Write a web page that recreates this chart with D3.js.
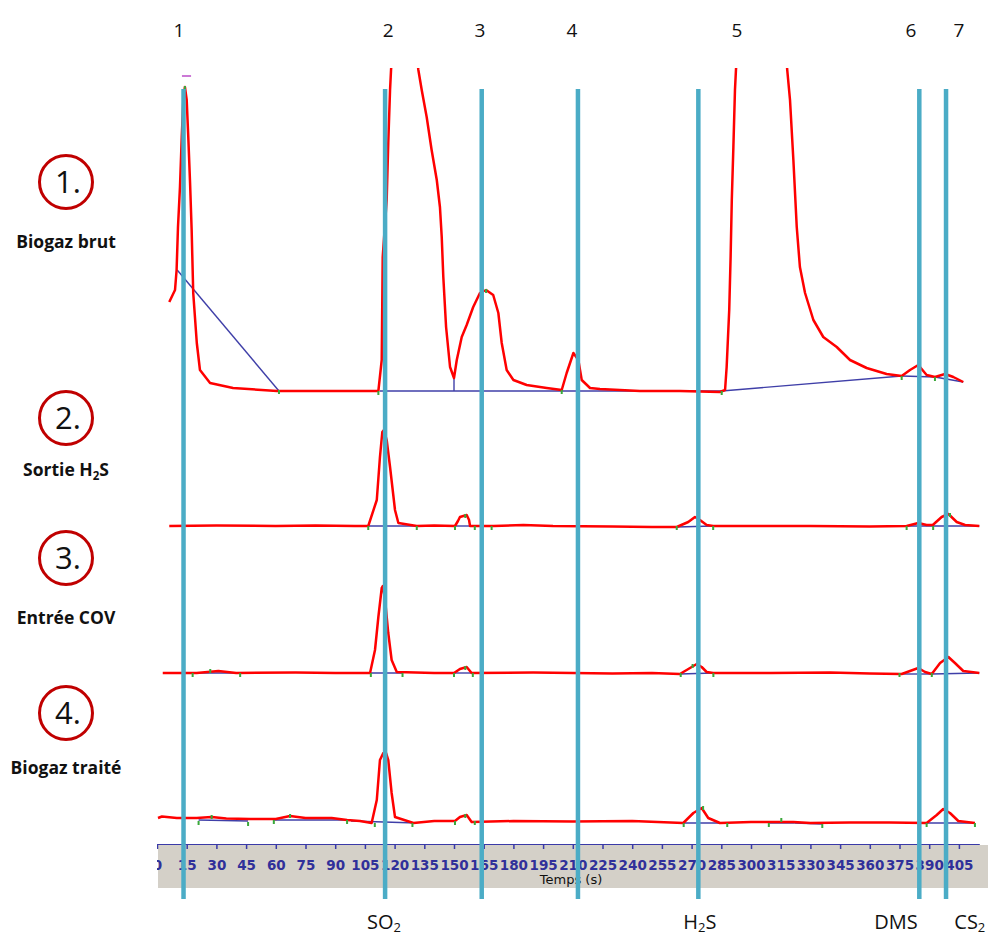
<!DOCTYPE html>
<html>
<head>
<meta charset="utf-8">
<script src="https://cdn.jsdelivr.net/npm/d3@7"></script>
<style>
  html, body { margin: 0; padding: 0; background: #fff; }
  svg { display: block; }
</style>
</head>
<body>
<svg id="chart" width="994" height="935"></svg>
<script>
// ---------------- DATA ----------------
// Time axis (s)
const tickLabels = [0,15,30,45,60,75,90,105,120,135,150,165,180,195,210,225,240,255,270,285,300,315,330,345,360,375,390,405];

// Compound retention times (s) marked by vertical lines
const peakTimes = [13.4, 115.2, 164.0, 212.6, 273.4, 385.0, 398.5];
const peakNumbers = ["1","2","3","4","5","6","7"];
const peakNumberTimes = [11.1, 116.7, 163.1, 209.6, 292.9, 380.8, 405.0];

// Compound names under the axis
const compoundNames = [
  {base:"SO", sub:"2", t:114.6},
  {base:"H", sub:"2", tail:"S", t:274.2},
  {base:"DMS", sub:"", t:373.2},
  {base:"CS", sub:"2", t:410.5}
];

// Sample names
const sampleNumbers = ["1.", "2.", "3.", "4."];
const sampleNames = [
  {base:"Biogaz brut"},
  {base:"Sortie H", sub:"2", tail:"S"},
  {base:"Entrée COV"},
  {base:"Biogaz traité"}
];

// Chromatogram 1 : Biogaz brut (signal, arbitrary units)
const time1 = [6.2,9.1,9.9,10.6,11.6,12.5,13.3,14.1,15.0,15.8,16.7,17.5,18.3,20.1,21.7,26.8,38.4,60.6,72.2,111.8,
  113.5,114.0,116.0,116.8,117.7,118.2,119.2,125,130.3,132.0,133.7,136.2,138.7,141.3,142.9,143.8,144.6,146.0,148.0,150.0,
  151.4,153.9,156.4,159.7,163.1,166.2,169.8,172.4,174.1,176.6,180.0,186.7,196.8,204.4,206.9,210.3,212.8,214.5,218.7,223.7,
  243.9,264.1,284.3,286.9,287.7,289.0,289.7,290.3,291.1,291.9,292.4,293.4,305,317.2,318.3,319.7,321.4,323.1,324.7,327.3,
  331.5,336.5,343.3,350.0,358.4,368.5,376.1,380.3,384.5,388.7,392.9,398.0,402.2,407.2];
const signal1 = [89,101,121,164,204,254,291,304,291,254,208,161,98,48,21,8,3,0,0,0,
  31,134,191,248,301,321,351,700,351,321,301,274,241,211,184,154,114,64,24,13,
  31,54,66,84,98,101,96,78,48,21,11,6,3,1,18,38,31,11,3,2,
  0,0,-1,1,24,81,134,191,244,301,321,351,700,351,321,291,231,164,124,98,
  71,54,44,31,23,17,15,21,26,16,14,17,14,9];
// Integration baseline segments for chromatogram 1: [t0, v0, t1, v1]
const base1 = [[10.2,121,61.6,0],[112.6,0,150.0,0],[150.0,13,150.0,0],[150.0,0,285.2,0],[285.2,0,376.1,15],[376.1,15,392.9,14],[392.9,14,407.2,9]];
const marks1 = [[14.1,304],[61.6,0],[111.8,-1],[166.2,101],[204.4,0],[285.2,-1],[376.1,14],[392.9,13]];

// Chromatogram 2 : Sortie H2S
const time2 = [6.2,30,60,80,100,106.7,111.0,112.6,113.8,114.6,116.0,117.7,120.2,121.9,131.2,140,150.5,152.0,153.0,156.4,157.6,158.1,
  170,185,200,230,250,262.5,268.3,271.7,274.2,277.6,280.9,300,330,360,378.6,384.5,388.7,391.8,396.3,399.7,403.9,408.1,415.3];
const signal2 = [0,0.5,0,0.5,0,0,26,69,94,96,86,59,16,3,0,0.5,0,5,9,11,6,0,
  0,1,0,-0.5,-1,-1,4,9,6,1,0,0,0,-0.5,0,3,1,1,9,12,4,1,0];
const base2 = [[106.7,0,131.2,0],[150.5,0,158.1,0],[262.5,-1,280.9,0],[378.6,0,415.3,0]];
const marks2 = [[106.7,-1],[131.2,-1],[150.5,-1],[155.7,11],[160.5,-1],[169,-1],[262.5,-1],[280.9,-1],[378.6,-1],[392,-1],[400.5,12]];

// Chromatogram 3 : Entrée COV
const time3 = [2.9,20,31.0,40,70,90,107.6,110.1,111.8,113.5,114.1,115.2,116.8,118.5,121.1,140,150,153.0,156.4,158.9,
  190,230,250,264.1,269.2,272.6,275.1,277.6,280.9,310,340,360,376.1,380.3,384.5,387.9,391.3,395.5,399.7,403.0,407.2,415.3];
const signal3 = [0,0,2,0,0.5,0,0,23,56,85,87,73,40,13,1,0,0,4,6,0,
  0.5,-0.5,0,-1,5,9,6,1,0,0,0.5,-0.5,-1,2,5,1,-1,10,16,10,2,0];
const base3 = [[18,0,40,0],[107.6,0,124,0],[150,0,158.9,0],[264.1,-1,280.9,0],[376.1,-1,391.3,-1],[391.3,-1,415.3,0]];
const marks3 = [[18,-1],[26.9,3],[42,-1],[108,-1],[124,-1],[150,-1],[155.7,6],[159.5,-1],[264.5,-1],[270.5,8],[281,-1],[375,-1],[391.3,-1]];

// Chromatogram 4 : Biogaz traité
const time4 = [0.5,2.5,10,20,27.6,35,47,60,67.2,75,88.2,96,102.5,108.4,111.0,112.6,114.3,115.7,116.8,118.5,120.2,129.5,140,150.5,153.0,156.4,158.9,
  180,210,240,265.8,270.9,275.1,278.4,284.3,300,315,321.4,330,350,370,388.7,393.8,397.1,400.5,404.7,413.1];
const signal4 = [3,4.5,3,3,4,2.5,2,2,5,3,3,1,0,-2,21,61,68,68,61,28,4,-2,0,0,4,6,-1,
  0,-0.5,0,-2,8,13,3,-2,-1,-1,-1,-2,-1.5,-1.5,-2,6,12,8,0,-2];
const base4 = [[21,1,46,0],[59,1,98,1],[98,0,131,-2],[265.8,-2,284.3,-2],[309,-2,322,-2],[322,-2,336,-3],[388.7,-2,413.1,-2]];
const marks4 = [[21,-1],[27.6,5],[46,-2],[59,0],[67.2,6],[96,0],[110,-3],[129,-3],[150.5,-1],[155.7,6],[160.5,-1],[266,-3],[275.8,14],[288,-3],[309,-3],[315.3,2],[336,-4],[388.7,-3],[413.1,-3]];

const traces = [
  {time: time1, signal: signal1, base: base1, marks: marks1},
  {time: time2, signal: signal2, base: base2, marks: marks2},
  {time: time3, signal: signal3, base: base3, marks: marks3},
  {time: time4, signal: signal4, base: base4, marks: marks4}
];

// ---------------- LAYOUT ----------------
const svg = d3.select("#chart");
const x = d3.scaleLinear().domain([0, 415.3]).range([157, 979.3]);
const zeroY = [391, 526, 673, 821];    // pixel of signal 0 for each trace
const axisY = 844;
const lineTop = 89, lineBottom = 899;
const textFont = "'Open Sans', 'Noto Sans', sans-serif";

const defs = svg.append("defs");
defs.append("clipPath").attr("id", "plotClip")
  .append("rect").attr("x", 157).attr("y", 68).attr("width", 830).attr("height", 780);
defs.append("clipPath").attr("id", "axisClip")
  .append("rect").attr("x", 157).attr("y", 835).attr("width", 840).attr("height", 60);

// gray band behind axis labels
svg.append("rect").attr("x", 158).attr("y", 845).attr("width", 830).attr("height", 43).attr("fill", "#d4d0c8");

// axis
const axis = d3.axisBottom(x).tickValues(tickLabels).tickSize(5).tickPadding(11).tickSizeOuter(0);
const ag = svg.append("g").attr("clip-path", "url(#axisClip)")
  .append("g").attr("transform", `translate(0,${axisY})`).call(axis);
ag.select(".domain").attr("stroke", "#3a3aa8").attr("stroke-width", 1.2);
ag.selectAll(".tick line").attr("stroke", "#3a3aa8").attr("stroke-width", 1.5);
ag.selectAll(".tick text").attr("fill", "#30309a").attr("font-family", "'DejaVu Sans', sans-serif")
  .attr("font-size", 13.5).attr("font-weight", "bold");
svg.append("text").attr("x", 571).attr("y", 884).attr("text-anchor", "middle")
  .attr("font-family", "'DejaVu Sans', sans-serif").attr("font-size", 13).attr("fill", "#111").text("Temps (s)");

// traces
const plot = svg.append("g").attr("clip-path", "url(#plotClip)");
traces.forEach((tr, i) => {
  const y = d3.scaleLinear().domain([0, 100]).range([zeroY[i], zeroY[i] - 100]);
  const pts = tr.time.map((t, k) => [t, tr.signal[k]]);
  const line = d3.line().x(d => x(d[0])).y(d => y(d[1]));
  // integration baselines
  plot.append("g").selectAll("line").data(tr.base).join("line")
    .attr("x1", d => x(d[0])).attr("y1", d => y(d[1]))
    .attr("x2", d => x(d[2])).attr("y2", d => y(d[3]))
    .attr("stroke", "#3f3fa8").attr("stroke-width", 1.4);
  plot.append("path").datum(pts).attr("d", line)
    .attr("fill", "none").attr("stroke", "#ff0000").attr("stroke-width", 2.5)
    .attr("stroke-linejoin", "round");
  // peak start/end markers
  plot.append("g").selectAll("rect").data(tr.marks).join("rect")
    .attr("x", d => x(d[0]) - 1).attr("y", d => y(d[1]) - 1)
    .attr("width", 2).attr("height", 4).attr("fill", "#3aa83a");
});

// small magenta mark at top of first peak
svg.append("line").attr("x1", x(12.6)).attr("x2", x(17.2)).attr("y1", 76).attr("y2", 76)
  .attr("stroke", "#b030c0").attr("stroke-width", 1.3);

// vertical cyan lines
svg.append("g").selectAll("line").data(peakTimes).join("line")
  .attr("x1", d => x(d)).attr("x2", d => x(d))
  .attr("y1", lineTop).attr("y2", lineBottom)
  .attr("stroke", "#4bacc6").attr("stroke-width", 4.5);

// peak numbers at top
svg.append("g").selectAll("text").data(peakNumbers).join("text")
  .attr("x", (d, i) => x(peakNumberTimes[i])).attr("y", 37)
  .attr("text-anchor", "middle").attr("font-family", textFont).attr("font-size", 19)
  .attr("fill", "#111").text(d => d);

// compound names at bottom
const cn = svg.append("g").selectAll("text").data(compoundNames).join("text")
  .attr("x", d => x(d.t)).attr("y", 929).attr("text-anchor", "middle")
  .attr("font-family", textFont).attr("font-size", 20).attr("fill", "#111");
cn.each(function(d) {
  const t = d3.select(this);
  t.append("tspan").text(d.base);
  if (d.sub) t.append("tspan").attr("font-size", 13).attr("dy", 3).text(d.sub);
  if (d.tail) t.append("tspan").attr("dy", -3).text(d.tail);
});

// sample labels on the left
const circleY = [182, 418, 558, 713];
const nameY = [248, 476, 624, 774];
svg.append("g").selectAll("circle").data(sampleNumbers).join("circle")
  .attr("cx", 66).attr("cy", (d, i) => circleY[i]).attr("r", 26.5)
  .attr("fill", "#fff").attr("stroke", "#c00000").attr("stroke-width", 3);
svg.append("g").selectAll("text").data(sampleNumbers).join("text")
  .attr("x", 68).attr("y", (d, i) => circleY[i] + 11).attr("text-anchor", "middle")
  .attr("font-family", textFont).attr("font-size", 31).attr("fill", "#111").text(d => d);
const sn = svg.append("g").selectAll("text").data(sampleNames).join("text")
  .attr("x", 66).attr("y", (d, i) => nameY[i]).attr("text-anchor", "middle")
  .attr("font-family", textFont).attr("font-size", 17.5).attr("font-weight", "bold").attr("fill", "#111");
sn.each(function(d) {
  const t = d3.select(this);
  t.append("tspan").text(d.base);
  if (d.sub) t.append("tspan").attr("font-size", 11.5).attr("dy", 4).text(d.sub);
  if (d.tail) t.append("tspan").attr("dy", -4).text(d.tail);
});
</script>
</body>
</html>
